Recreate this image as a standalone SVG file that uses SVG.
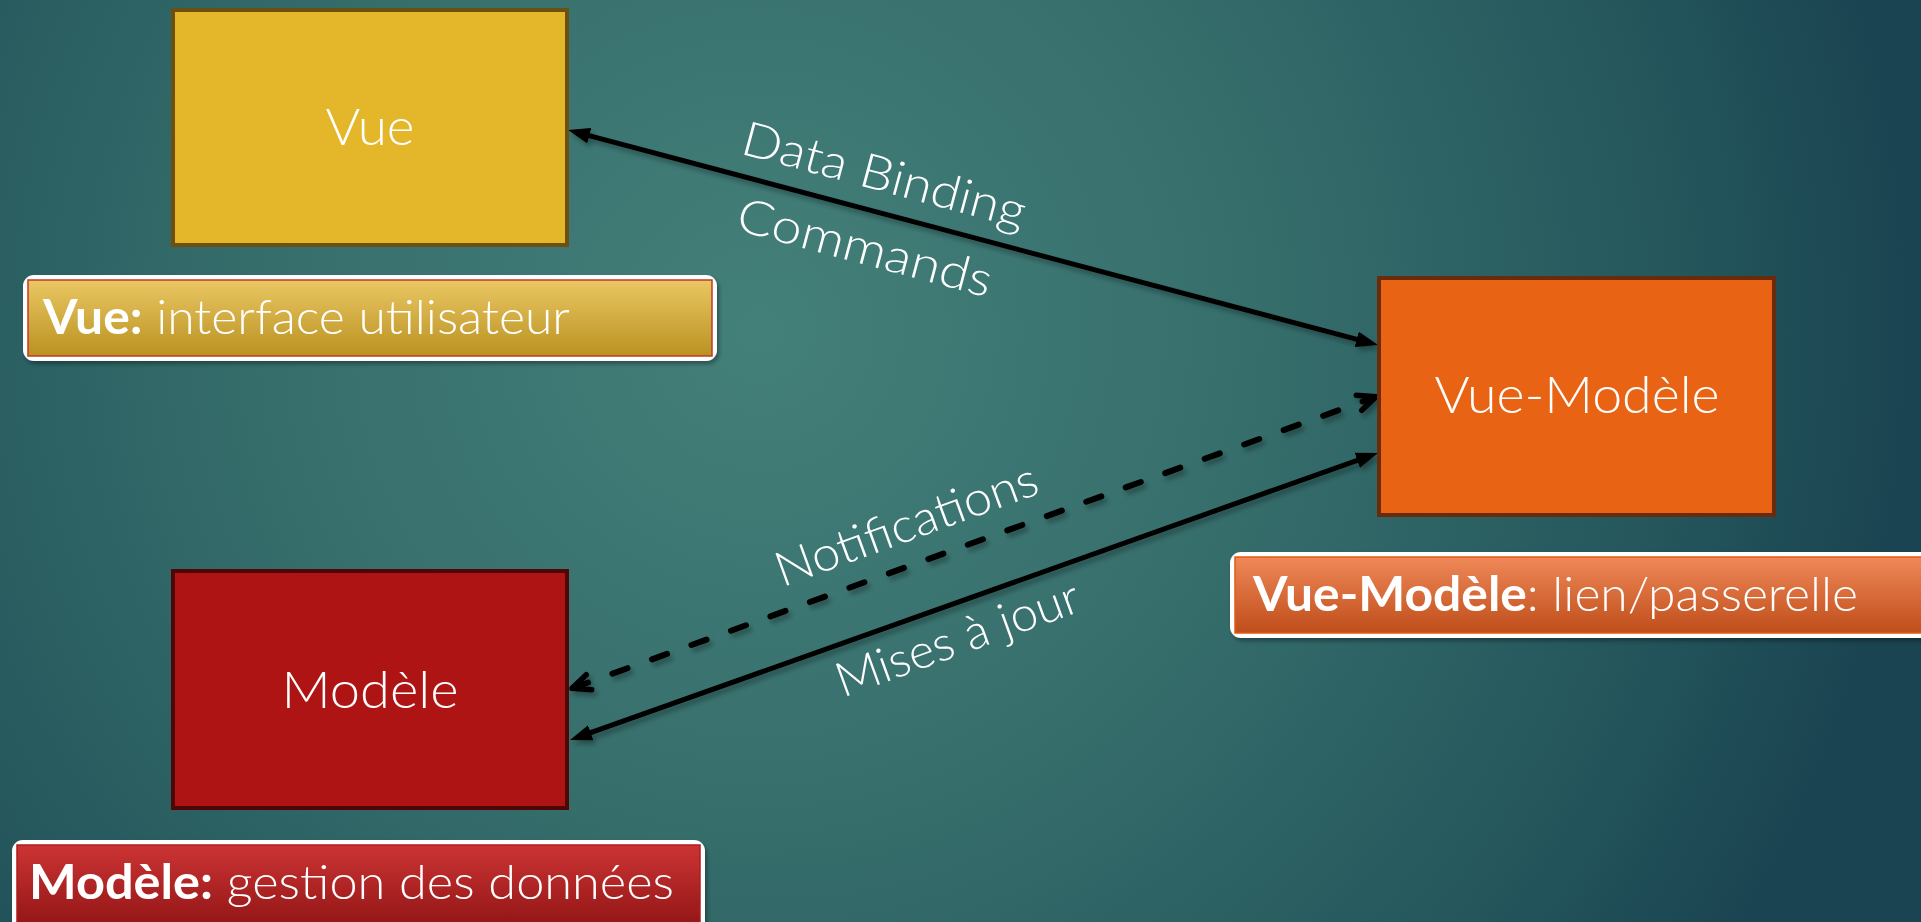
<svg xmlns="http://www.w3.org/2000/svg" width="1921" height="922" viewBox="0 0 1921 922">
<defs>
  <radialGradient id="bg" cx="760" cy="330" r="1150" gradientUnits="userSpaceOnUse">
    <stop offset="0" stop-color="#44807A"/>
    <stop offset="0.45" stop-color="#356D6B"/>
    <stop offset="0.8" stop-color="#24565C"/>
    <stop offset="1" stop-color="#1A4451"/>
  </radialGradient>
  <linearGradient id="gGold" x1="0" y1="0" x2="0" y2="1">
    <stop offset="0" stop-color="#EAC763"/>
    <stop offset="1" stop-color="#BA9222"/>
  </linearGradient>
  <linearGradient id="gOrange" x1="0" y1="0" x2="0" y2="1">
    <stop offset="0" stop-color="#EF8858"/>
    <stop offset="1" stop-color="#BF4E1A"/>
  </linearGradient>
  <linearGradient id="gRed" x1="0" y1="0" x2="0" y2="1">
    <stop offset="0" stop-color="#CC3434"/>
    <stop offset="1" stop-color="#8C1212"/>
  </linearGradient>
  <filter id="shadow" x="-10%" y="-10%" width="120%" height="130%">
    <feDropShadow dx="2" dy="3" stdDeviation="2" flood-color="#000" flood-opacity="0.35"/>
  </filter>
  <filter id="lshadow" x="-5%" y="-20%" width="110%" height="140%">
    <feDropShadow dx="3" dy="4" stdDeviation="2.5" flood-color="#000" flood-opacity="0.3"/>
  </filter>
  <marker id="arrow" viewBox="0 0 22 16" markerWidth="22" markerHeight="16" refX="12" refY="8" orient="auto-start-reverse" markerUnits="userSpaceOnUse">
    <path d="M0,0 L22,8 L0,16 z" fill="#000"/>
  </marker>
  <marker id="chev" viewBox="-4 -4 28 24" markerWidth="28" markerHeight="24" refX="18" refY="8" orient="auto-start-reverse" markerUnits="userSpaceOnUse">
    <path d="M1,0 L19,8 L1,16" fill="none" stroke="#000" stroke-width="5.5" stroke-linecap="round" stroke-linejoin="round"/>
  </marker>
</defs>
<style>
  .box { stroke-width: 4; }
  .ntext { font-family: Lato, "Open Sans", "Liberation Sans", sans-serif; font-weight: 300; font-size: 52px; fill: #FFFFFF; text-anchor: middle; }
  .ltext { font-family: Lato, "Open Sans", "Liberation Sans", sans-serif; font-weight: 300; font-size: 48px; fill: #FFFFFF; }
  .ctext { font-family: Lato, "Open Sans", "Liberation Sans", sans-serif; font-weight: 300; font-size: 48px; fill: #FFFFFF; text-anchor: middle; }
  .b { font-weight: bold; }
  .conn { stroke: #000; stroke-width: 5; fill: none; }
  .solid { marker-start: url(#arrow); marker-end: url(#arrow); }
  .dash { stroke-width: 6; stroke-dasharray: 16 26; stroke-linecap: round; marker-start: url(#chev); marker-end: url(#chev); }
</style>
<rect x="0" y="0" width="1921" height="922" fill="url(#bg)"/>

<g id="connectors" filter="url(#lshadow)">
  <line class="conn solid" x1="577.7" y1="132.6" x2="1368.3" y2="342.4"/>
  <line class="conn dash" x1="573" y1="688" x2="1375" y2="397"/>
  <line class="conn solid" x1="579.4" y1="736.7" x2="1368.6" y2="456.3"/>
</g>

<g id="connector-labels">
  <g transform="translate(880,191) rotate(15)">
    <text class="ctext" x="0" y="0" textLength="292" lengthAdjust="spacingAndGlyphs">Data Binding</text>
    <text class="ctext" x="0" y="75" textLength="262" lengthAdjust="spacingAndGlyphs">Commands</text>
  </g>
  <text class="ctext" transform="translate(912,540) rotate(-20)" x="0" y="0" textLength="276" lengthAdjust="spacingAndGlyphs">Notifications</text>
  <text class="ctext" transform="translate(963,654) rotate(-20)" x="0" y="0" textLength="256" lengthAdjust="spacingAndGlyphs">Mises à jour</text>
</g>

<g id="vue">
  <rect class="box" x="173" y="10" width="394" height="235" fill="#E4B72B" stroke="#6B5012"/>
  <text class="ntext" x="370" y="145" textLength="89" lengthAdjust="spacingAndGlyphs">Vue</text>
</g>

<g id="vue-modele">
  <rect class="box" x="1379" y="278" width="395" height="237" fill="#E96314" stroke="#6A2A0C"/>
  <text class="ntext" x="1577" y="413" textLength="285" lengthAdjust="spacingAndGlyphs">Vue-Modèle</text>
</g>

<g id="modele">
  <rect class="box" x="173" y="571" width="394" height="237" fill="#AE1414" stroke="#4F0606"/>
  <text class="ntext" x="370" y="708" textLength="177" lengthAdjust="spacingAndGlyphs">Modèle</text>
</g>

<g id="vue-label">
  <rect x="23" y="275" width="694" height="86" rx="11" fill="#FFFFFF" filter="url(#shadow)"/>
  <rect x="28" y="280" width="684" height="76" fill="url(#gGold)" stroke="#C23A25" stroke-width="1.5"/>
  <text class="ltext" x="43" y="334" textLength="527" lengthAdjust="spacingAndGlyphs"><tspan class="b">Vue:</tspan> interface utilisateur</text>
</g>

<g id="vue-modele-label">
  <rect x="1230" y="552" width="710" height="86" rx="11" fill="#FFFFFF" filter="url(#shadow)"/>
  <rect x="1235" y="557" width="700" height="76" fill="url(#gOrange)" stroke="#E35A12" stroke-width="1.5"/>
  <text class="ltext" x="1253" y="611" textLength="605" lengthAdjust="spacingAndGlyphs"><tspan class="b">Vue-Modèle</tspan>: lien/passerelle</text>
</g>

<g id="modele-label">
  <rect x="12" y="840" width="693" height="100" rx="11" fill="#FFFFFF" filter="url(#shadow)"/>
  <rect x="17" y="845" width="683" height="90" fill="url(#gRed)" stroke="#B01C1C" stroke-width="1.5"/>
  <text class="ltext" x="29" y="899" textLength="645" lengthAdjust="spacingAndGlyphs"><tspan class="b">Modèle:</tspan> gestion des données</text>
</g>
</svg>
